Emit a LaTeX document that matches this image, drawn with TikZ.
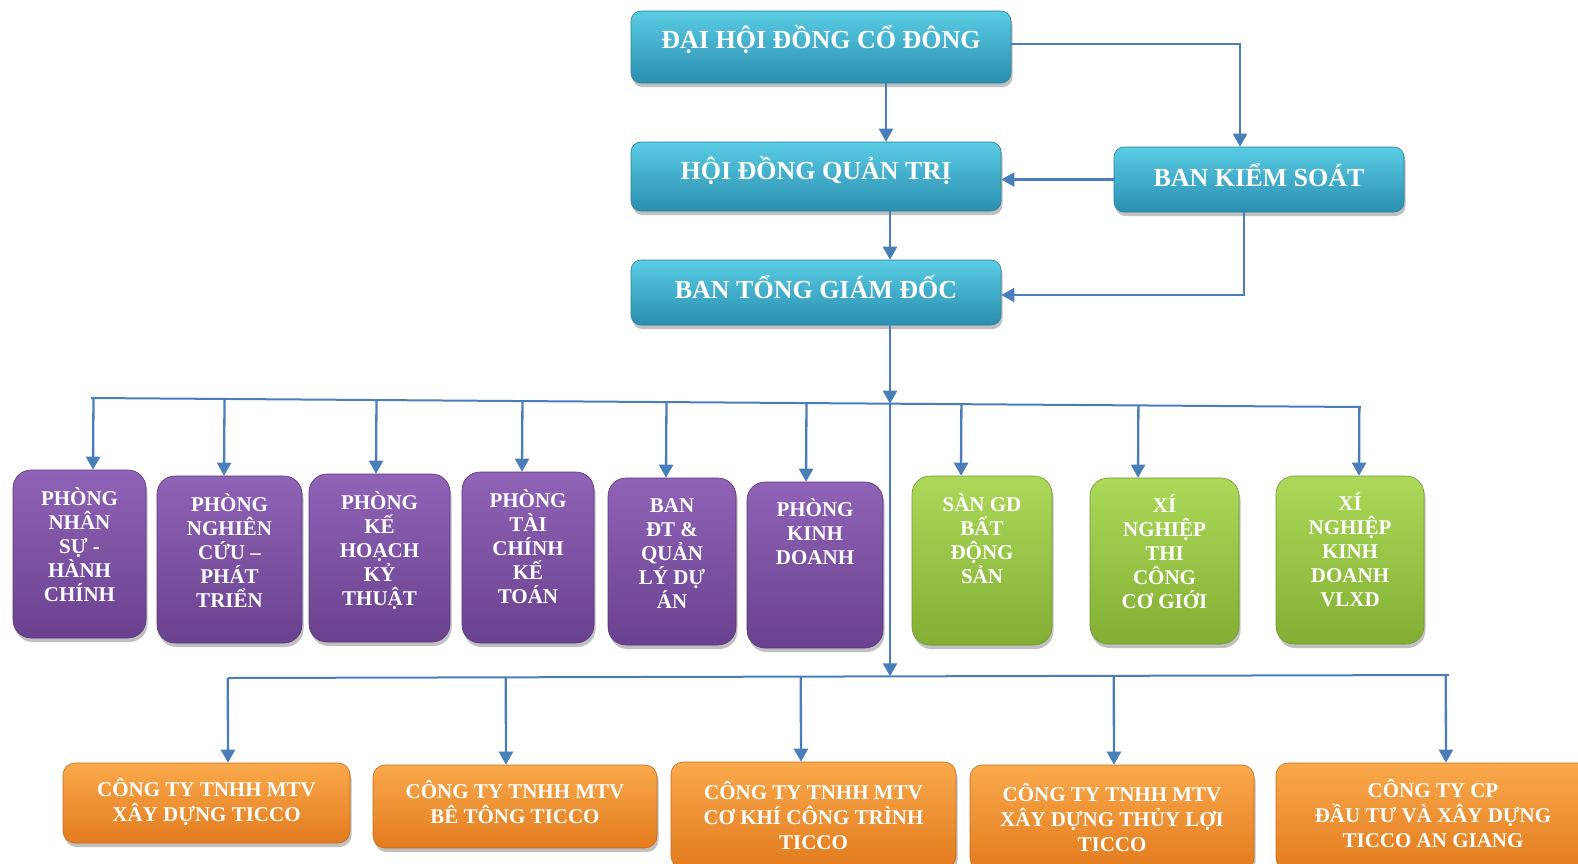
\documentclass[tikz,border=0pt]{standalone}
\usepackage{fontspec}
\setmainfont{Liberation Serif}
\usetikzlibrary{arrows.meta,shadows,calc}
\definecolor{lineblue}{HTML}{4A7EBB}
\definecolor{tealT}{HTML}{5ACCE4}
\definecolor{tealM}{HTML}{34AACB}
\definecolor{tealB}{HTML}{2A8EB0}
\definecolor{tealD}{HTML}{2A7F9C}
\definecolor{purT}{HTML}{8F63B6}
\definecolor{purM}{HTML}{7A4DA2}
\definecolor{purB}{HTML}{6A418F}
\definecolor{purD}{HTML}{5A3579}
\definecolor{grnT}{HTML}{ADD95A}
\definecolor{grnM}{HTML}{97C443}
\definecolor{grnB}{HTML}{82AE33}
\definecolor{grnD}{HTML}{6F962B}
\definecolor{orgT}{HTML}{F9A94C}
\definecolor{orgM}{HTML}{F28D2B}
\definecolor{orgB}{HTML}{E27B1E}
\definecolor{orgD}{HTML}{C96A17}
\newcommand{\vlines}[1]{\vtop{\halign{\hfil##\hfil\cr#1\crcr}}}
\begin{document}
\begin{tikzpicture}[x=1pt,y=-1pt,
  shad/.style={drop shadow={shadow xshift=1.5pt,shadow yshift=-4pt,opacity=0.35,fill=black!70}},
  tbox/.style={shad,rounded corners=10pt,draw=tealD,line width=0.6pt,top color=tealT,middle color=tealM,bottom color=tealB,inner sep=0pt},
  pbox/.style={shad,rounded corners=18pt,draw=purD,line width=0.6pt,top color=purT,middle color=purM,bottom color=purB,inner sep=0pt},
  gbox/.style={shad,rounded corners=18pt,draw=grnD,line width=0.6pt,top color=grnT,middle color=grnM,bottom color=grnB,inner sep=0pt},
  obox/.style={shad,rounded corners=12pt,draw=orgD,line width=0.6pt,top color=orgT,middle color=orgM,bottom color=orgB,inner sep=0pt},
  ttext/.style={text=white,font=\fontsize{26}{30}\selectfont\bfseries,inner sep=0pt},
  ptext/.style={text=white,font=\fontsize{21}{24}\selectfont\bfseries,anchor=base,inner sep=0pt},
  otext/.style={text=white,font=\fontsize{21}{25}\selectfont\bfseries,anchor=base,inner sep=0pt},
  conn/.style={draw=lineblue,line width=2.3pt},
  arr/.style={conn,-{Triangle[width=14pt,length=13pt]}}]
\clip (0,0) rectangle (1578,863);
\fill[white] (0,0) rectangle (1578,863);

% top boxes
\node[tbox,minimum width=380,minimum height=72] (dh) at (821,47) {};
\node[ttext] (dht) at ([yshift=8pt]dh.center) {ĐẠI HỘI ĐỒNG CỔ ĐÔNG};
\node[tbox,minimum width=370,minimum height=69] (hq) at (816,176.5) {};
\node[ttext] (hqt) at ([yshift=6pt]hq.center) {HỘI ĐỒNG QUẢN TRỊ};
\node[tbox,minimum width=290,minimum height=65] (bks) at (1259,179.5) {};
\node[ttext] (bkst) at ([yshift=4pt]bks.center) {BAN KIỂM SOÁT};
\node[tbox,minimum width=370,minimum height=65] (btgd) at (816,292.5) {};
\node[ttext] (btgdt) at ([yshift=5pt]btgd.center) {BAN TỔNG GIÁM ĐỐC};

% department boxes
\node[pbox,minimum width=133,minimum height=168] (p1) at (79.5,554) {};
\node[ptext] (p1t) at ($(p1.north)+(0,36)$) {\vlines{PHÒNG\cr NHÂN\cr SỰ -\cr HÀNH\cr CHÍNH}};
\node[pbox,minimum width=145,minimum height=167] (p2) at (229.5,559.5) {};
\node[ptext] (p2t) at ($(p2.north)+(0,36)$) {\vlines{PHÒNG\cr NGHIÊN\cr CỨU –\cr PHÁT\cr TRIỂN}};
\node[pbox,minimum width=141,minimum height=168] (p3) at (379.5,558) {};
\node[ptext] (p3t) at ($(p3.north)+(0,36)$) {\vlines{PHÒNG\cr KẾ\cr HOẠCH\cr KỶ\cr THUẬT}};
\node[pbox,minimum width=132,minimum height=171] (p4) at (528,557.5) {};
\node[ptext] (p4t) at ($(p4.north)+(0,36)$) {\vlines{PHÒNG\cr TÀI\cr CHÍNH\cr KẾ\cr TOÁN}};
\node[pbox,minimum width=128,minimum height=167] (p5) at (672,561.5) {};
\node[ptext] (p5t) at ($(p5.north)+(0,35)$) {\vlines{BAN\cr ĐT \&\cr QUẢN\cr LÝ DỰ\cr ÁN}};
\node[pbox,minimum width=136,minimum height=166] (p6) at (815,565) {};
\node[ptext] (p6t) at ($(p6.north)+(0,35)$) {\vlines{PHÒNG\cr KINH\cr DOANH}};
\node[gbox,minimum width=140,minimum height=169] (g1) at (982,560.5) {};
\node[ptext] (g1t) at ($(g1.north)+(0,36)$) {\vlines{SÀN GD\cr BẤT\cr ĐỘNG\cr SẢN}};
\node[gbox,minimum width=149,minimum height=166] (g2) at (1164.5,561) {};
\node[ptext] (g2t) at ($(g2.north)+(0,35)$) {\vlines{XÍ\cr NGHIỆP\cr THI\cr CÔNG\cr CƠ GIỚI}};
\node[gbox,minimum width=148,minimum height=168] (g3) at (1350,560) {};
\node[ptext] (g3t) at ($(g3.north)+(0,35)$) {\vlines{XÍ\cr NGHIỆP\cr KINH\cr DOANH\cr VLXD}};

% companies
\node[obox,minimum width=287,minimum height=80] (o1) at (206.5,803) {};
\node[otext] (o1t) at ($(o1.north)+(0,34)$) {\vlines{CÔNG TY TNHH MTV\cr XÂY DỰNG TICCO}};
\node[obox,minimum width=284,minimum height=83] (o2) at (515,806.5) {};
\node[otext] (o2t) at ($(o2.north)+(0,34)$) {\vlines{CÔNG TY TNHH MTV\cr BÊ TÔNG TICCO}};
\node[obox,minimum width=285,minimum height=106] (o3) at (813.5,815) {};
\node[otext] (o3t) at ($(o3.north)+(0,38)$) {\vlines{CÔNG TY TNHH MTV\cr CƠ KHÍ CÔNG TRÌNH\cr TICCO}};
\node[obox,minimum width=284,minimum height=105] (o4) at (1112,817.5) {};
\node[otext] (o4t) at ($(o4.north)+(0,37)$) {\vlines{CÔNG TY TNHH MTV\cr XÂY DỰNG THỦY LỢI\cr TICCO}};
\node[obox,minimum width=314,minimum height=107] (o5) at (1433,816.5) {};
\node[otext] (o5t) at ($(o5.north)+(0,35)$) {\vlines{CÔNG TY CP\cr ĐẦU TƯ VÀ XÂY DỰNG\cr TICCO AN GIANG}};

% top connectors
\draw[arr] ([xshift=65pt]dh.south) -- ([xshift=65pt]dh.south |- hq.north);
\draw[arr] ([yshift=3pt]dh.east) -| ([xshift=-19pt]bks.north);
\draw[arr] (bks.west) -- (bks.west -| hq.east);
\draw[arr] ([xshift=74pt]hq.south) -- ([xshift=74pt]hq.south |- btgd.north);
\draw[arr] ([xshift=-15pt]bks.south) |- ([yshift=-2.5pt]btgd.east);

% upper distribution line
\coordinate (hl) at (91,398);
\coordinate (hr) at (1361,407);
\draw[conn,line width=2pt] (hl) -- (hr);
\coordinate (mtop) at (890,403.7);
\draw[arr] ([xshift=74pt]btgd.south) -- (mtop);
\foreach \n/\s in {p1/13.5,p2/-5.5,p3/-3.5,p4/-6,p5/-6,p6/-9,g1/-21,g2/-26.5,g3/9}{
  \coordinate (b\n) at ([xshift=\s pt]\n.north);
  \draw[arr] ($(hl)!(b\n)!(hr)$) -- (b\n);
}

% lower distribution line
\coordinate (ll) at (228,678);
\coordinate (lr) at (1449,675);
\draw[conn,line width=2pt] (ll) -- (lr);
\coordinate (lmid) at (890,676.3);
\draw[arr] (mtop) -- (lmid);
\foreach \n/\s in {o1/21.5,o2/-9,o3/-12.5,o4/2,o5/13}{
  \coordinate (c\n) at ([xshift=\s pt]\n.north);
  \draw[arr] ($(ll)!(c\n)!(lr)$) -- (c\n);
}
\end{tikzpicture}
\end{document}
